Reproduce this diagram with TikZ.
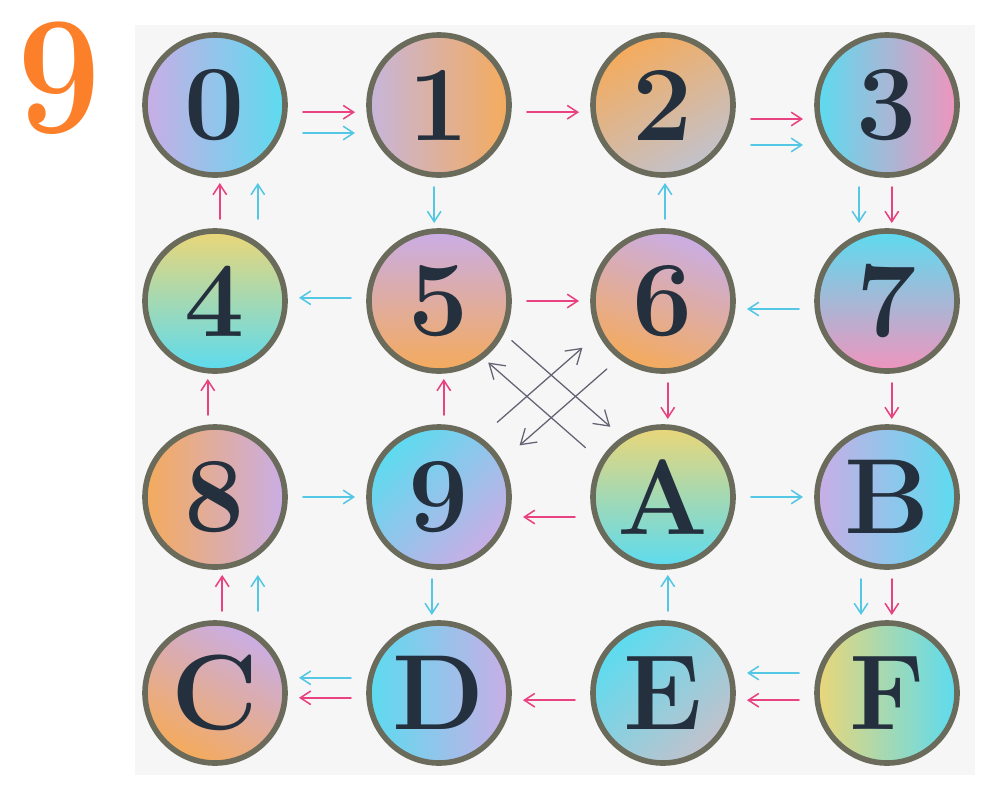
\documentclass[tikz,border=0pt]{standalone}
\usepackage{fontspec}
\usetikzlibrary{arrows.meta,calc,positioning}
\definecolor{panelgray}{rgb}{0.965,0.965,0.97}
\definecolor{titleorange}{rgb}{0.99,0.50,0.16}
\definecolor{rimgray}{rgb}{0.42,0.42,0.36}
\definecolor{ballink}{rgb}{0.14,0.19,0.24}
\definecolor{ballpink}{rgb}{0.94,0.58,0.74}
\definecolor{ballcyan}{rgb}{0.36,0.86,0.94}
\definecolor{ballorange}{rgb}{0.96,0.67,0.36}
\definecolor{ballyellow}{rgb}{0.92,0.84,0.47}
\definecolor{ballviolet}{rgb}{0.79,0.68,0.90}
\definecolor{ballgray}{rgb}{0.76,0.76,0.80}
\definecolor{penpink}{rgb}{0.91,0.26,0.50}
\definecolor{pencyan}{rgb}{0.33,0.78,0.90}
\definecolor{pengray}{rgb}{0.40,0.38,0.45}
\newcommand\ballfont{\fontsize{76}{76}\selectfont\bfseries}
\newcommand\titlefont{\fontsize{120}{120}\selectfont\bfseries}
\tikzset{
  ball/.style n args={3}{
    circle,
    minimum size=3.5cm,
    inner sep=0pt,
    outer sep=0pt,
    line width=4pt,
    draw=rimgray,
    top color=#1,
    bottom color=#2,
    shading angle=#3,
    text=ballink,
    font=\ballfont
  },
  pinkarr/.style={
    draw=penpink,
    line width=1.1pt,
    line cap=round,
    -{Straight Barb[length=2.6mm,width=3.4mm]}
  },
  cyanarr/.style={
    draw=pencyan,
    line width=1.1pt,
    line cap=round,
    -{Straight Barb[length=2.6mm,width=3.4mm]}
  },
  penarr/.style={
    draw=pengray,
    line width=0.9pt,
    line cap=round,
    -{Straight Barb[length=3.6mm,width=4.6mm]}
  },
  hor/.style={shorten <=0.45cm, shorten >=0.35cm},
  ver/.style={shorten <=0.3cm, shorten >=0.2cm}
}
\begin{document}
\begin{tikzpicture}[node distance=1.4cm and 2.1cm]
\useasboundingbox (0,0) rectangle (25,-20);
\fill[panelgray] (3.375,-0.625) rectangle (24.375,-19.375);
\node[text=titleorange,font=\titlefont,inner sep=0pt,xscale=0.88,transform shape] (title) at (1.48,-1.95) {9};
\node[ball={ballviolet}{ballcyan}{90}] (n0) at (5.375,-2.625) {0};
\node[ball={ballviolet!60!ballgray}{ballorange}{90},right=of n0] (n1) {1};
\node[ball={ballorange}{ballgray}{30},right=of n1] (n2) {2};
\node[ball={ballcyan}{ballpink}{90},right=of n2] (n3) {3};
\node[ball={ballyellow}{ballcyan}{0},below=of n0] (n4) {4};
\node[ball={ballviolet}{ballorange}{0},right=of n4] (n5) {5};
\node[ball={ballviolet}{ballorange}{-20},right=of n5] (n6) {6};
\node[ball={ballcyan}{ballpink}{0},right=of n6] (n7) {7};
\node[ball={ballorange}{ballviolet}{90},below=of n4] (n8) {8};
\node[ball={ballcyan}{ballviolet}{45},right=of n8] (n9) {9};
\node[ball={ballyellow}{ballcyan}{0},right=of n9] (nA) {A};
\node[ball={ballviolet}{ballcyan}{90},right=of nA] (nB) {B};
\node[ball={ballviolet}{ballorange}{-30},below=of n8] (nC) {C};
\node[ball={ballcyan}{ballviolet}{90},right=of nC] (nD) {D};
\node[ball={ballcyan}{ballgray}{45},right=of nD] (nE) {E};
\node[ball={ballyellow}{ballcyan}{90},right=of nE] (nF) {F};
% rows
\draw[pinkarr,hor] ([yshift=-0.18cm]n0.east) -- ([yshift=-0.18cm]n1.west);
\draw[cyanarr,hor] ([yshift=-0.7cm]n0.east) -- ([yshift=-0.7cm]n1.west);
\draw[pinkarr,hor] ([yshift=-0.18cm]n1.east) -- ([yshift=-0.18cm]n2.west);
\draw[pinkarr,hor] ([yshift=-0.35cm]n2.east) -- ([yshift=-0.35cm]n3.west);
\draw[cyanarr,hor] ([yshift=-1cm]n2.east) -- ([yshift=-1cm]n3.west);
\draw[cyanarr,hor] ([yshift=0.08cm]n5.west) -- ([yshift=0.08cm]n4.east);
\draw[pinkarr,hor] (n5.east) -- (n6.west);
\draw[cyanarr,hor] ([yshift=-0.2cm]n7.west) -- ([yshift=-0.2cm]n6.east);
\draw[cyanarr,hor] (n8.east) -- (n9.west);
\draw[pinkarr,hor] ([yshift=-0.5cm]nA.west) -- ([yshift=-0.5cm]n9.east);
\draw[cyanarr,hor] (nA.east) -- (nB.west);
\draw[cyanarr,hor] ([yshift=0.38cm]nD.west) -- ([yshift=0.38cm]nC.east);
\draw[pinkarr,hor] ([yshift=-0.12cm]nD.west) -- ([yshift=-0.12cm]nC.east);
\draw[pinkarr,hor] ([yshift=-0.18cm]nE.west) -- ([yshift=-0.18cm]nD.east);
\draw[cyanarr,hor] ([yshift=0.5cm]nF.west) -- ([yshift=0.5cm]nE.east);
\draw[pinkarr,hor] ([yshift=-0.18cm]nF.west) -- ([yshift=-0.18cm]nE.east);
% columns
\draw[pinkarr,ver] ([xshift=0.12cm]n4.north) -- ([xshift=0.12cm]n0.south);
\draw[cyanarr,ver] ([xshift=1.07cm]n4.north) -- ([xshift=1.07cm]n0.south);
\draw[cyanarr,ver] ([xshift=-0.12cm]n1.south) -- ([xshift=-0.12cm]n5.north);
\draw[cyanarr,ver] ([xshift=0.05cm]n6.north) -- ([xshift=0.05cm]n2.south);
\draw[cyanarr,ver] ([xshift=-0.7cm]n3.south) -- ([xshift=-0.7cm]n7.north);
\draw[pinkarr,ver] ([xshift=0.12cm]n3.south) -- ([xshift=0.12cm]n7.north);
\draw[pinkarr,ver] ([xshift=-0.18cm]n8.north) -- ([xshift=-0.18cm]n4.south);
\draw[pinkarr,ver] ([xshift=0.12cm]n9.north) -- ([xshift=0.12cm]n5.south);
\draw[pinkarr,ver] ([xshift=0.12cm]n6.south) -- ([xshift=0.12cm]nA.north);
\draw[pinkarr,ver] ([xshift=0.12cm]n7.south) -- ([xshift=0.12cm]nB.north);
\draw[pinkarr,ver] ([xshift=0.18cm]nC.north) -- ([xshift=0.18cm]n8.south);
\draw[cyanarr,ver] ([xshift=1.07cm]nC.north) -- ([xshift=1.07cm]n8.south);
\draw[cyanarr,ver] ([xshift=-0.18cm]n9.south) -- ([xshift=-0.18cm]nD.north);
\draw[cyanarr,ver] ([xshift=0.12cm]nE.north) -- ([xshift=0.12cm]nA.south);
\draw[cyanarr,ver] ([xshift=-0.65cm]nB.south) -- ([xshift=-0.65cm]nF.north);
\draw[pinkarr,ver] ([xshift=0.12cm]nB.south) -- ([xshift=0.12cm]nF.north);
% cross
\draw[penarr,shorten <=2.02cm,shorten >=2.15cm] ([shift={(0.3,0.34)}]n5.center) -- ([shift={(0.3,0.34)}]nA.center);
\draw[penarr,shorten <=2.27cm,shorten >=1.94cm] ([shift={(-0.23,-0.26)}]nA.center) -- ([shift={(-0.23,-0.26)}]n5.center);
\draw[penarr,shorten <=2.32cm,shorten >=2.29cm] ([shift={(-0.29,0.34)}]n9.center) -- ([shift={(-0.29,0.34)}]n6.center);
\draw[penarr,shorten <=2.17cm,shorten >=2.37cm] ([shift={(0.23,-0.27)}]n6.center) -- ([shift={(0.23,-0.27)}]n9.center);
\end{tikzpicture}
\end{document}
